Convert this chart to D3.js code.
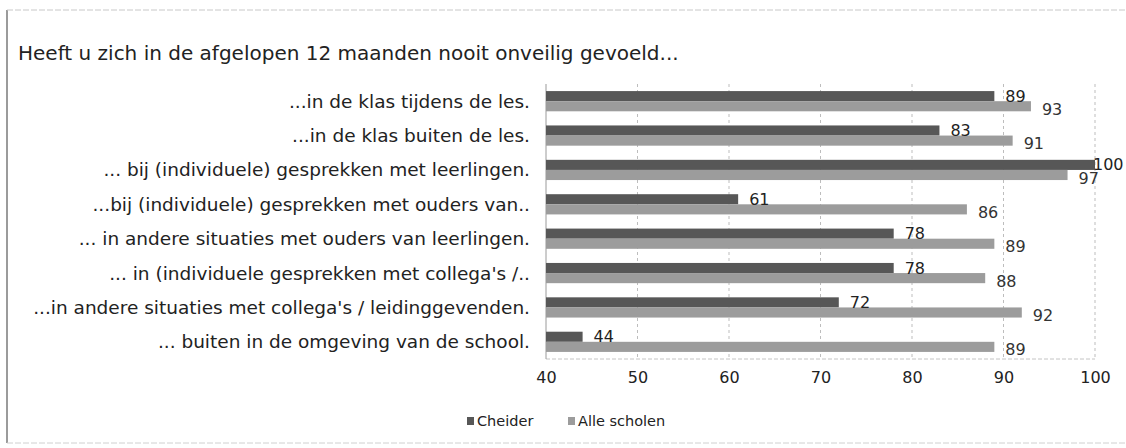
<!DOCTYPE html>
<html>
<head>
<meta charset="utf-8">
<script src="https://cdn.jsdelivr.net/npm/d3@7"></script>
<style>
  body { margin: 0; background: #fff; }
  text { font-family: "DejaVu Sans", sans-serif; fill: #222; }
</style>
</head>
<body>
<div id="chart"></div>
<script>
// Data
const title = "Heeft u zich in de afgelopen 12 maanden nooit onveilig gevoeld...";
const categories = [
  "...in de klas tijdens de les.",
  "...in de klas buiten de les.",
  "... bij (individuele) gesprekken met leerlingen.",
  "...bij (individuele) gesprekken met ouders van..",
  "... in andere situaties met ouders van leerlingen.",
  "... in (individuele gesprekken met collega's /..",
  "...in andere situaties met collega's / leidinggevenden.",
  "... buiten in de omgeving van de school."
];
const seriesNames = ["Cheider", "Alle scholen"];
const cheider = [89, 83, 100, 61, 78, 78, 72, 44];
const alleScholen = [93, 91, 97, 86, 89, 88, 92, 89];
const tickValues = [40, 50, 60, 70, 80, 90, 100];

document.addEventListener("DOMContentLoaded", () => {
  const width = 1126, height = 448;
  const colors = { "Cheider": "#575757", "Alle scholen": "#9c9c9c" };

  const svg = d3.select("#chart").append("svg")
    .attr("width", width)
    .attr("height", height);

  // outer frame (scanned look: dark left edge, faint top/bottom)
  svg.append("line").attr("x1", 7).attr("x2", 7).attr("y1", 10).attr("y2", 443)
    .attr("stroke", "#7a7a7a").attr("stroke-width", 1.5);
  svg.append("line").attr("x1", 7).attr("x2", width).attr("y1", 10).attr("y2", 10)
    .attr("stroke", "#c8c8c8").attr("stroke-dasharray", "6,2");
  svg.append("line").attr("x1", 7).attr("x2", width).attr("y1", 443).attr("y2", 443)
    .attr("stroke", "#d0d0d0").attr("stroke-dasharray", "6,2");

  svg.append("text")
    .attr("x", 18).attr("y", 60)
    .style("font-size", "20px")
    .text(title);

  const x = d3.scaleLinear().domain([40, 100]).range([546, 1095]);
  const y0 = d3.scaleBand().domain(categories).range([84, 359]);
  const y1 = d3.scaleBand().domain(seriesNames).range([0, y0.bandwidth()]).paddingOuter(0.7);

  // gridlines
  svg.append("g").selectAll("line")
    .data(tickValues.slice(1))
    .join("line")
    .attr("x1", d => x(d)).attr("x2", d => x(d))
    .attr("y1", 84).attr("y2", 359)
    .attr("stroke", "#bdbdbd").attr("stroke-dasharray", "3,3");
  svg.append("line")
    .attr("x1", x(40)).attr("x2", x(100)).attr("y1", 359).attr("y2", 359)
    .attr("stroke", "#c4c4c4").attr("stroke-dasharray", "4,2");
  svg.append("line")
    .attr("x1", x(40)).attr("x2", x(40)).attr("y1", 84).attr("y2", 359)
    .attr("stroke", "#9a9a9a");

  // bars
  const rows = categories.map((c, i) => ({ cat: c, values: [
    { key: "Cheider", v: cheider[i] },
    { key: "Alle scholen", v: alleScholen[i] }
  ]}));

  const g = svg.append("g").selectAll("g")
    .data(rows)
    .join("g")
    .attr("transform", d => `translate(0,${y0(d.cat)})`);

  g.selectAll("rect")
    .data(d => d.values)
    .join("rect")
    .attr("x", x(40))
    .attr("y", d => y1(d.key))
    .attr("width", d => x(d.v) - x(40))
    .attr("height", y1.bandwidth())
    .attr("fill", d => colors[d.key]);

  g.selectAll("text.val")
    .data(d => d.values)
    .join("text")
    .attr("class", "val")
    .attr("x", d => Math.min(x(d.v) + 11, x(100) - 2))
    .attr("y", d => y1(d.key) + y1.bandwidth() / 2 + (d.key === "Cheider" ? 0 : 3))
    .attr("dy", "0.35em")
    .style("font-size", "16px")
    .style("fill", d => d.key === "Cheider" ? "#222" : "#333")
    .text(d => d.v);

  // category labels
  svg.append("g").selectAll("text")
    .data(categories)
    .join("text")
    .attr("x", 530)
    .attr("y", d => y0(d) + y0.bandwidth() / 2)
    .attr("dy", "0.35em")
    .attr("text-anchor", "end")
    .style("font-size", "18.5px")
    .text(d => d);

  // x axis tick labels
  const axis = svg.append("g")
    .attr("transform", "translate(0,359)")
    .call(d3.axisBottom(x).tickValues(tickValues).tickSize(0).tickPadding(13));
  axis.select(".domain").remove();
  axis.selectAll("text")
    .style("font-size", "16px")
    .style("font-family", "DejaVu Sans, sans-serif")
    .attr("fill", "#222");

  // legend
  const legend = svg.append("g").attr("transform", "translate(467,421)");
  const li = legend.selectAll("g")
    .data(seriesNames)
    .join("g")
    .attr("transform", (d, i) => `translate(${i * 101},0)`);
  li.append("rect")
    .attr("x", 0).attr("y", -4)
    .attr("width", 7).attr("height", 8)
    .attr("fill", d => colors[d]);
  li.append("text")
    .attr("x", 10).attr("dy", "0.35em")
    .style("font-size", "14.5px")
    .text(d => d);
});
</script>
</body>
</html>
